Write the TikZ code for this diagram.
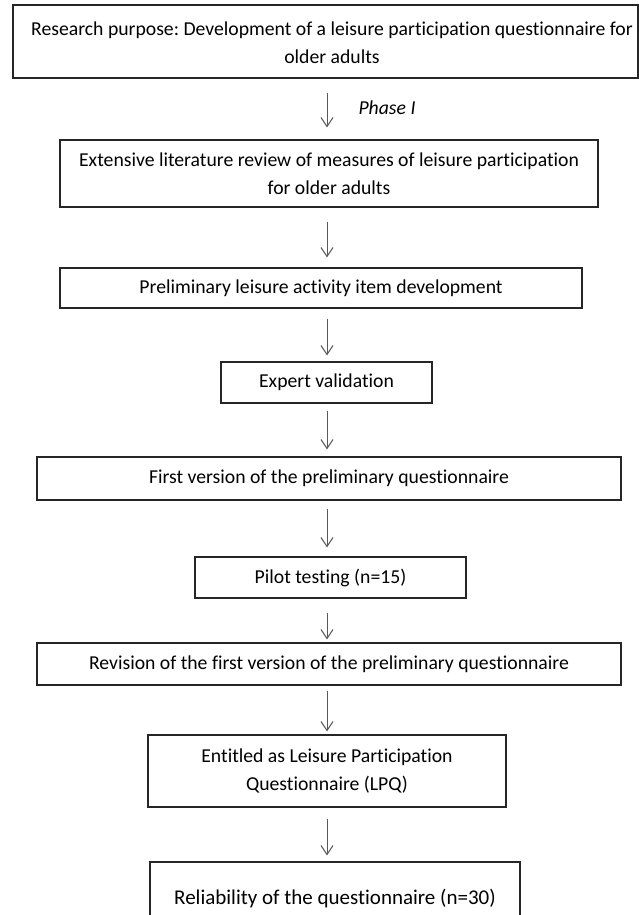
\documentclass[tikz,border=0pt]{standalone}
\usepackage{fontspec}
\setmainfont[Ligatures={NoCommon}]{Carlito}
\usetikzlibrary{arrows.meta,calc}
\frenchspacing
\begin{document}
\begin{tikzpicture}[x=1pt,y=-1pt,
  stepbox/.style={draw=black!85,line width=1.2pt,inner sep=0pt,align=center,
    font=\fontsize{19.7}{28}\selectfont,text=black},
  arr/.style={draw=black!65,line width=1pt,-{Straight Barb[length=9pt,width=12pt,line width=1pt]}}]
\useasboundingbox (0,0) rectangle (639,915);
\clip (0,0) rectangle (639,915);
\fill[white] (0,0) rectangle (639,915);
\coordinate (ax) at (327,0);
\node[stepbox,minimum width=625pt,minimum height=73pt] (b1) at (325.5,41.5) {};
\node[stepbox,draw=none] (t1) at (332,43)
  {Research purpose: Development of a leisure participation questionnaire for\\older adults};
\node[stepbox,minimum width=538pt,minimum height=67pt] (b2) at (329,173.5)
  {Extensive literature review of measures of leisure participation\\for older adults};
\node[stepbox,minimum width=522pt,minimum height=40pt] (b3) at (321,288)
  {Preliminary leisure activity item development};
\node[stepbox,minimum width=211pt,minimum height=41pt] (b4) at (326.5,382.5)
  {Expert validation};
\node[stepbox,minimum width=584pt,minimum height=43pt] (b5) at (329,478.5)
  {First version of the preliminary questionnaire};
\node[stepbox,minimum width=271pt,minimum height=41pt] (b6) at (330.5,577.5)
  {Pilot testing (n=15)};
\node[stepbox,minimum width=584pt,minimum height=42pt] (b7) at (329,664)
  {Revision of the first version of the preliminary questionnaire};
\node[stepbox,minimum width=358pt,minimum height=72pt] (b8) at (327,771)
  {Entitled as Leisure Participation\\Questionnaire (LPQ)};
\node[stepbox,minimum width=370pt,minimum height=74pt,font=\fontsize{21}{28}\selectfont] (b9) at (335,899)
  {Reliability of the questionnaire (n=30)};
\draw[arr] ($(b1.south -| ax)+(0,-14pt)$) -- ($(b2.north -| ax)+(0,12pt)$);
\node[font=\fontsize{19.7}{22}\selectfont\itshape,text=black,anchor=west] (ph) at (355,108) {Phase I};
\draw[arr] ($(b2.south -| ax)+(0,-14pt)$) -- ($(b3.north -| ax)+(0,10pt)$);
\draw[arr] ($(b3.south -| ax)+(0,-10pt)$) -- ($(b4.north -| ax)+(0,6pt)$);
\draw[arr] ($(b4.south -| ax)+(0,-7pt)$) -- ($(b5.north -| ax)+(0,7pt)$);
\draw[arr] ($(b5.south -| ax)+(0,-8pt)$) -- ($(b6.north -| ax)+(0,9pt)$);
\draw[arr] ($(b6.south -| ax)+(0,-14pt)$) -- ($(b7.north -| ax)+(0,3pt)$);
\draw[arr] ($(b7.south -| ax)+(0,-5pt)$) -- ($(b8.north -| ax)+(0,3pt)$);
\draw[arr] ($(b8.south -| ax)+(0,-11pt)$) -- ($(b9.north -| ax)+(0,6pt)$);
\end{tikzpicture}
\end{document}
